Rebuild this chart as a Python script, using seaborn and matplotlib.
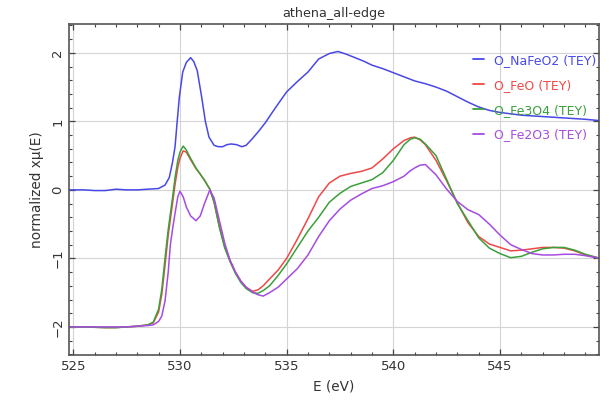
import numpy as np
import pandas as pd
import matplotlib
matplotlib.use("Agg")
import matplotlib.pyplot as plt
import seaborn as sns
from matplotlib.ticker import MultipleLocator

# ---- O K-edge normalized spectra ----
energy_naf = [524.8, 525.5, 526.0, 526.5, 527.0, 527.5, 528.0, 528.5, 529.0, 529.3,
              529.5, 529.65, 529.77, 529.87, 529.97, 530.13, 530.3, 530.5, 530.65, 530.81,
              531.02, 531.19, 531.36, 531.6, 531.8, 532.0, 532.2, 532.4, 532.65, 532.9,
              533.1, 533.4, 533.7, 534.0, 534.5, 535.0, 535.5, 536.0, 536.5, 537.0,
              537.4, 537.8, 538.2, 538.6, 539.0, 539.5, 540.0, 540.5, 541.0, 541.5,
              542.0, 542.5, 543.0, 543.5, 544.0, 544.5, 545.0, 545.5, 546.0, 547.0,
              548.0, 549.0, 549.7]
mu_nafeo2 = [0.0, 0.0, -0.01, -0.01, 0.01, 0.0, 0.0, 0.01, 0.02, 0.07,
             0.18, 0.40, 0.63, 1.00, 1.35, 1.72, 1.86, 1.93, 1.87, 1.74,
             1.35, 1.00, 0.77, 0.65, 0.63, 0.63, 0.66, 0.67, 0.66, 0.63,
             0.65, 0.75, 0.86, 0.98, 1.21, 1.43, 1.58, 1.72, 1.91, 1.99,
             2.02, 1.98, 1.93, 1.88, 1.82, 1.77, 1.71, 1.65, 1.59, 1.55,
             1.50, 1.44, 1.36, 1.28, 1.21, 1.16, 1.13, 1.11, 1.09, 1.07,
             1.05, 1.03, 1.01]

energy_ox = [524.8, 525.5, 526.5, 527.0, 527.5, 528.0, 528.5, 528.75, 529.0, 529.15,
             529.3, 529.45, 529.55, 529.65, 529.77, 529.9, 530.0, 530.15, 530.3, 530.5,
             530.75, 530.95, 531.15, 531.4, 531.6, 531.85, 532.1, 532.35, 532.6, 532.85,
             533.1, 533.4, 533.65, 533.9, 534.2, 534.6, 535.0, 535.5, 536.0, 536.5,
             537.0, 537.5, 538.0, 538.5, 539.0, 539.5, 540.0, 540.5, 540.8, 541.0,
             541.25, 541.5, 542.0, 542.5, 543.0, 543.5, 544.0, 544.5, 545.0, 545.5,
             546.0, 546.5, 547.0, 547.5, 548.0, 548.5, 549.0, 549.7]
mu_feo = [-2.00, -2.00, -2.01, -2.01, -2.00, -1.99, -1.97, -1.94, -1.78, -1.52,
          -1.10, -0.66, -0.43, -0.20, 0.08, 0.33, 0.46, 0.57, 0.55, 0.44,
          0.31, 0.23, 0.14, 0.01, -0.18, -0.54, -0.83, -1.03, -1.20, -1.33,
          -1.42, -1.48, -1.46, -1.40, -1.30, -1.17, -1.00, -0.72, -0.42, -0.10,
          0.10, 0.20, 0.24, 0.27, 0.32, 0.45, 0.60, 0.72, 0.76, 0.77,
          0.73, 0.66, 0.43, 0.13, -0.19, -0.48, -0.68, -0.79, -0.84, -0.89,
          -0.88, -0.86, -0.84, -0.84, -0.85, -0.89, -0.95, -1.00]
mu_fe3o4 = [-2.00, -2.00, -2.01, -2.01, -2.00, -1.99, -1.97, -1.93, -1.74, -1.45,
            -1.00, -0.58, -0.35, -0.12, 0.18, 0.43, 0.55, 0.64, 0.58, 0.46,
            0.32, 0.23, 0.14, 0.01, -0.18, -0.55, -0.85, -1.05, -1.22, -1.35,
            -1.44, -1.50, -1.51, -1.47, -1.40, -1.25, -1.08, -0.84, -0.60, -0.40,
            -0.18, -0.05, 0.05, 0.10, 0.15, 0.25, 0.43, 0.66, 0.74, 0.76,
            0.74, 0.67, 0.50, 0.15, -0.20, -0.45, -0.70, -0.85, -0.93, -0.99,
            -0.97, -0.91, -0.86, -0.84, -0.84, -0.88, -0.94, -1.00]
mu_fe2o3 = [-2.00, -2.00, -2.00, -2.00, -2.00, -1.99, -1.98, -1.97, -1.92, -1.84,
            -1.62, -1.20, -0.80, -0.58, -0.34, -0.10, -0.02, -0.10, -0.25, -0.38,
            -0.45, -0.38, -0.20, 0.00, -0.12, -0.45, -0.78, -1.03, -1.20, -1.33,
            -1.42, -1.49, -1.53, -1.55, -1.50, -1.42, -1.30, -1.15, -0.95, -0.68,
            -0.45, -0.28, -0.15, -0.06, 0.02, 0.06, 0.12, 0.20, 0.28, 0.32,
            0.36, 0.37, 0.22, 0.01, -0.17, -0.29, -0.36, -0.50, -0.66, -0.80,
            -0.87, -0.93, -0.95, -0.95, -0.94, -0.94, -0.96, -1.00]

labels = ["O_NaFeO2 (TEY)", "O_FeO (TEY)", "O_Fe3O4 (TEY)", "O_Fe2O3 (TEY)"]
colors = ["#4848e8", "#f04848", "#3aa03a", "#a64ce0"]

frames = [
    pd.DataFrame({"E": energy_naf, "mu": mu_nafeo2, "sample": labels[0]}),
    pd.DataFrame({"E": energy_ox, "mu": mu_feo, "sample": labels[1]}),
    pd.DataFrame({"E": energy_ox, "mu": mu_fe3o4, "sample": labels[2]}),
    pd.DataFrame({"E": energy_ox, "mu": mu_fe2o3, "sample": labels[3]}),
]
df = pd.concat(frames, ignore_index=True)

sns.set_theme(style="white")
plt.rcParams["font.family"] = ["DejaVu Sans"]
text_color = "#333333"

fig = plt.figure(figsize=(6.09, 4.01), dpi=100)
ax = fig.add_axes([0.1133, 0.1147, 0.8707, 0.8253])

sns.lineplot(data=df, x="E", y="mu", hue="sample", hue_order=labels,
             palette=dict(zip(labels, colors)), sort=False, estimator=None,
             linewidth=1.1, ax=ax)

ax.set_xlim(524.8, 549.65)
ax.set_ylim(-2.41, 2.42)
ax.xaxis.set_major_locator(MultipleLocator(5))
ax.xaxis.set_minor_locator(MultipleLocator(1))
ax.yaxis.set_major_locator(MultipleLocator(1))
ax.yaxis.set_minor_locator(MultipleLocator(0.2))
ax.grid(True, which="major", color="#d4d4d4", linewidth=0.8)
ax.set_axisbelow(True)

ax.tick_params(which="both", direction="in", top=True, right=True,
               bottom=True, left=True, colors="#444444", labelcolor=text_color,
               labelsize=9.5)
ax.tick_params(which="major", length=4, width=0.9)
ax.tick_params(which="minor", length=2.5, width=0.8)
for lab in ax.get_yticklabels():
    lab.set_rotation(90)
    lab.set_va("center")
for sp in ax.spines.values():
    sp.set_color("#555555")
    sp.set_linewidth(1.2)

ax.set_xlabel("E (eV)", fontsize=9.8, color=text_color, labelpad=5)
ax.set_ylabel("normalized x\u03bc(E)", fontsize=9.8, color=text_color, labelpad=5)
ax.set_title("athena_all-edge", fontsize=9.2, color=text_color, pad=5)

leg = ax.legend(loc="upper left", bbox_to_anchor=(0.762, 0.91), frameon=False,
                fontsize=9, handlelength=0.9, handletextpad=0.8,
                labelspacing=0.95, borderpad=0, borderaxespad=0,
                labelcolor="linecolor")
for h in leg.get_lines():
    h.set_linewidth(1.3)

fig.savefig("out.png", dpi=100)
